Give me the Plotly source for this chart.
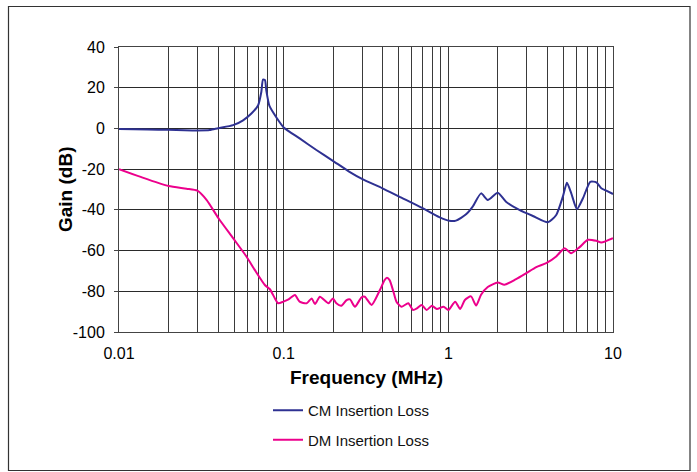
import plotly.graph_objects as go

# ---- data ----
cm_freq = [0.01, 0.015, 0.02, 0.025, 0.03, 0.0356, 0.04, 0.0493, 0.0567, 0.0637, 0.07, 0.0732,
           0.0749, 0.077, 0.0784, 0.0821, 0.0903, 0.1, 0.125, 0.158, 0.199, 0.251, 0.301, 0.398,
           0.503, 0.698, 0.881, 1.014, 1.113, 1.281, 1.406, 1.58, 1.735, 1.996, 2.24, 2.70, 3.26,
           4.02, 4.52, 4.96, 5.25, 5.58, 6.04, 6.57, 7.28, 7.92, 8.49, 9.1, 10.0]
cm_gain = [-0.3, -0.5, -0.7, -0.9, -1.0, -0.8, 0.1, 1.6, 4.0, 7.3, 11.4, 18.0,
           24.0, 23.7, 18.8, 10.9, 5.4, 0.5, -4.9, -10.6, -15.9, -21.3, -24.9, -29.4,
           -33.5, -39.2, -43.6, -45.4, -45.3, -42.2, -38.4, -31.9, -35.1, -31.6, -36.0, -40.0, -43.0,
           -46.1, -42.5, -33.5, -26.7, -31.9, -39.6, -34.3, -26.2, -26.5, -29.4, -30.6, -32.2]

dm_freq = [0.01, 0.0134, 0.02, 0.0257, 0.0299, 0.034, 0.0402, 0.0493, 0.0594, 0.0669, 0.0769,
           0.0825, 0.0885, 0.0926, 0.0996, 0.107, 0.117, 0.125, 0.138, 0.148, 0.155, 0.166, 0.187,
           0.199, 0.209, 0.224, 0.241, 0.253, 0.271, 0.297, 0.311, 0.342, 0.384, 0.41, 0.424,
           0.44, 0.464, 0.484, 0.519, 0.571, 0.61, 0.645, 0.688, 0.738, 0.794, 0.851, 0.935, 1.0,
           1.1, 1.18, 1.26, 1.374, 1.474, 1.58, 1.735, 1.996, 2.19, 2.58, 2.97, 3.42, 3.93, 4.52,
           5.08, 5.58, 6.27, 7.04, 7.92, 8.49, 10.0]
dm_gain = [-20.0, -23.7, -28.3, -29.6, -30.6, -35.1, -44.1, -53.9, -62.9, -69.6, -76.9,
           -79.0, -83.5, -85.9, -85.1, -84.0, -81.8, -85.1, -85.9, -83.5, -86.3, -82.7, -85.9,
           -83.5, -85.9, -87.1, -84.3, -84.0, -87.6, -83.0, -82.7, -86.7, -79.4, -74.5, -73.4,
           -74.5, -80.2, -85.1, -87.6, -85.9, -89.2, -88.4, -86.7, -89.2, -87.1, -88.7, -87.6, -89.2,
           -85.1, -88.7, -84.3, -82.5, -87.0, -81.7, -77.9, -75.7, -76.8, -74.0, -71.1, -68.1, -66.2, -62.9,
           -58.8, -61.3, -58.3, -54.7, -55.2, -56.0, -53.9]

series_names = ["CM Insertion Loss", "DM Insertion Loss"]
series_colors = ["#2E3192", "#EC008C"]

x_tick_vals = [m * 10 ** e for e in (-2, -1, 0) for m in range(1, 10)] + [10]
x_tick_text = [("0.01" if v == 0.01 else "0.1" if v == 0.1 else "1" if v == 1 else "")
               for v in x_tick_vals[:-1]] + ["10"]
y_tick_vals = [-100, -80, -60, -40, -20, 0, 20, 40]
y_tick_text = ["-100", "-80", "-60", "-40", "-20", "0", "20", "40"]

x_title = "Frequency (MHz)"
y_title = "Gain (dB)"

FONT = "Liberation Sans, Arial, sans-serif"

fig = go.Figure()
for i, (xf, yg) in enumerate([(cm_freq, cm_gain), (dm_freq, dm_gain)]):
    fig.add_trace(go.Scatter(
        x=xf, y=yg, mode="lines", name=series_names[i],
        legendgroup=series_names[i],
        line=dict(color=series_colors[i], width=2, shape="spline", smoothing=0.6),
    ))

# the page body margin is removed (post_script), so figure pixels == window pixels
W, H = 697, 472
L, T, R, B = 119, 47, 84, 140
pw, ph = W - L - R, H - T - B

def px(xp):  # window pixel x -> paper
    return (xp - L) / pw

def py(yp):  # window pixel y -> paper
    return (H - B - yp) / ph

fig.update_layout(
    width=W, height=H,
    margin=dict(l=L, r=R, t=T, b=B, pad=0),
    paper_bgcolor="white", plot_bgcolor="white",
    font=dict(family=FONT, size=16, color="black"),
    showlegend=True,
    legend=dict(
        x=px(268), y=py(394), xanchor="left", yanchor="top",
        font=dict(family=FONT, size=15, color="#111"),
        tracegroupgap=7, bgcolor="rgba(0,0,0,0)",
    ),
    xaxis=dict(
        type="log", range=[-2, 1],
        tickvals=x_tick_vals, ticktext=x_tick_text,
        showgrid=True, gridcolor="#3a3a3a", gridwidth=1,
        showline=True, linecolor="#444", linewidth=1, mirror=True,
        ticks="", ticklabelstandoff=7,
        tickfont=dict(family=FONT, size=16, color="black"),
        zeroline=False,
    ),
    yaxis=dict(
        range=[-100, 40], tickvals=y_tick_vals, ticktext=y_tick_text,
        showgrid=True, gridcolor="#2a2a2a", gridwidth=1,
        showline=True, linecolor="#444", linewidth=1, mirror=True,
        ticks="outside", ticklen=4, tickcolor="#444", ticklabelstandoff=6,
        tickfont=dict(family=FONT, size=16, color="black"),
        zeroline=False,
    ),
    annotations=[
        dict(text="<b>" + x_title + "</b>", xref="paper", yref="paper",
             x=px(366), y=py(377), xanchor="center", yanchor="middle",
             showarrow=False, font=dict(family=FONT, size=19, color="black")),
        dict(text="<b>" + y_title + "</b>", xref="paper", yref="paper",
             x=px(65), y=py(189), xanchor="center", yanchor="middle",
             textangle=-90, showarrow=False, font=dict(family=FONT, size=19, color="black")),
    ],
    shapes=[
        dict(type="rect", xref="paper", yref="paper",
             x0=px(8.5), x1=px(690), y0=py(470.5), y1=py(6.5),
             line=dict(color="#333", width=1.2), fillcolor="rgba(0,0,0,0)", layer="above"),
    ],
)

fig.write_html(
    "out.html",
    config={"displayModeBar": False},
    post_script="document.body.style.margin='0';document.body.style.overflow='hidden';",
)
